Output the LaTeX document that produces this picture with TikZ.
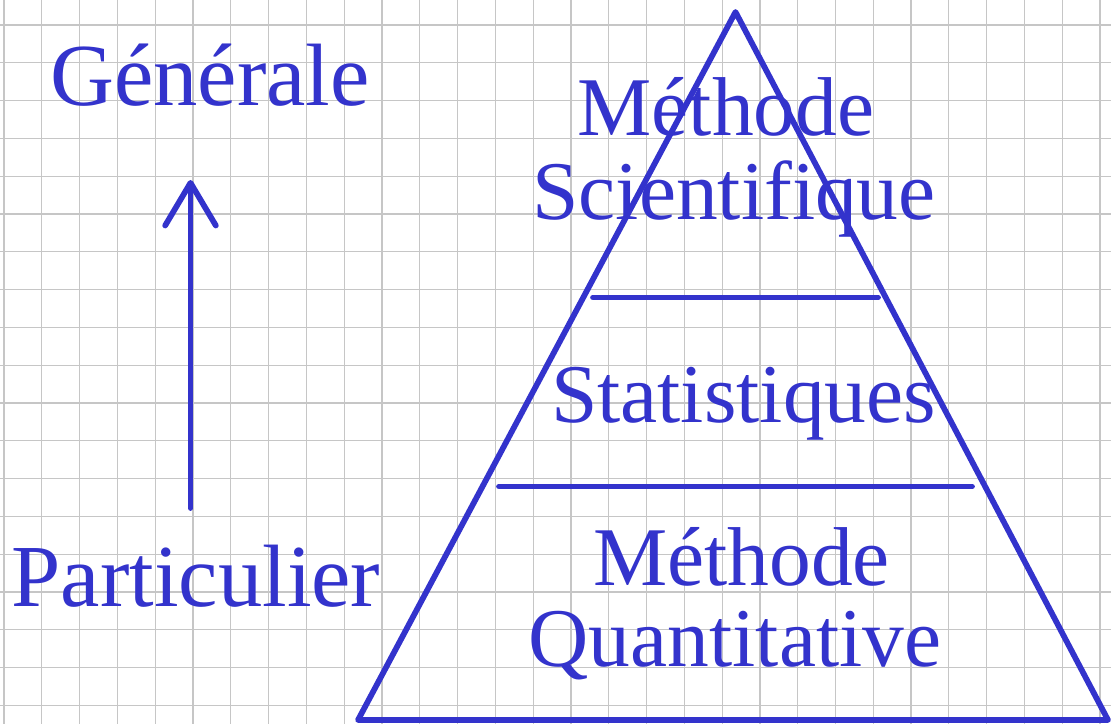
\documentclass[tikz,border=0pt]{standalone}
\usepackage{fontspec}
\setmainfont{Liberation Serif}
\usetikzlibrary{arrows.meta}
\definecolor{inkblue}{RGB}{51,51,204}
\definecolor{gridgray}{RGB}{198,198,198}
\tikzset{
  gridline/.style={draw=gridgray, line width=0.9pt},
  thick line/.style={draw=inkblue, line width=4.3pt, line cap=round, line join=round},
  bigtext/.style={text=inkblue, inner sep=0pt, anchor=base, font=\fontsize{66.4}{70}\selectfont},
  pyrtext/.style={text=inkblue, inner sep=0pt, anchor=base, font=\fontsize{62.6}{66}\selectfont},
}
\begin{document}
\begin{tikzpicture}[x=0.75pt, y=-0.75pt]
\useasboundingbox (0,0) rectangle (1111,724);
\clip (0,0) rectangle (1111,724);
\fill[white] (0,0) rectangle (1111,724);
% grid
\foreach \k in {0,...,29} {
  \draw[gridline] ({4+37.795*\k},0) -- ({4+37.795*\k},724);
}
\foreach \k in {0,...,18} {
  \draw[gridline] (0,{25+37.795*\k}) -- (1111,{25+37.795*\k});
}
% pyramid
\coordinate (apex) at (735.5,12);
\coordinate (bl) at (358,720);
\coordinate (br) at (1108,720);
\draw[thick line] (apex) -- (bl) -- (br) -- cycle;
\coordinate (u1) at (593,297.5);
\coordinate (u2) at (878,297.5);
\coordinate (l1) at (499,486.5);
\coordinate (l2) at (972,486.5);
\draw[thick line] (u1) -- (u2);
\draw[thick line] (l1) -- (l2);
% pyramid texts
\node[pyrtext] (ms) at (726,136) {Méthode};
\node[pyrtext] (sc) at (734,219) {Scientifique};
\node[pyrtext] (st) at (743.5,422.5) {Statistiques};
\node[pyrtext] (mq) at (741.5,585) {Méthode};
\node[pyrtext] (qt) at (735,666.5) {Quantitative};
% left side
\node[bigtext] (gen) at (210,106) {Générale};
\node[bigtext] (par) at (196,606) {Particulier};
\coordinate (arrS) at (190.5,508);
\coordinate (arrE) at (190.5,180);
\draw[thick line, -{Straight Barb[length=32pt, width=38pt, line cap=round, line join=round]}] (arrS) -- (arrE);
\end{tikzpicture}
\end{document}
